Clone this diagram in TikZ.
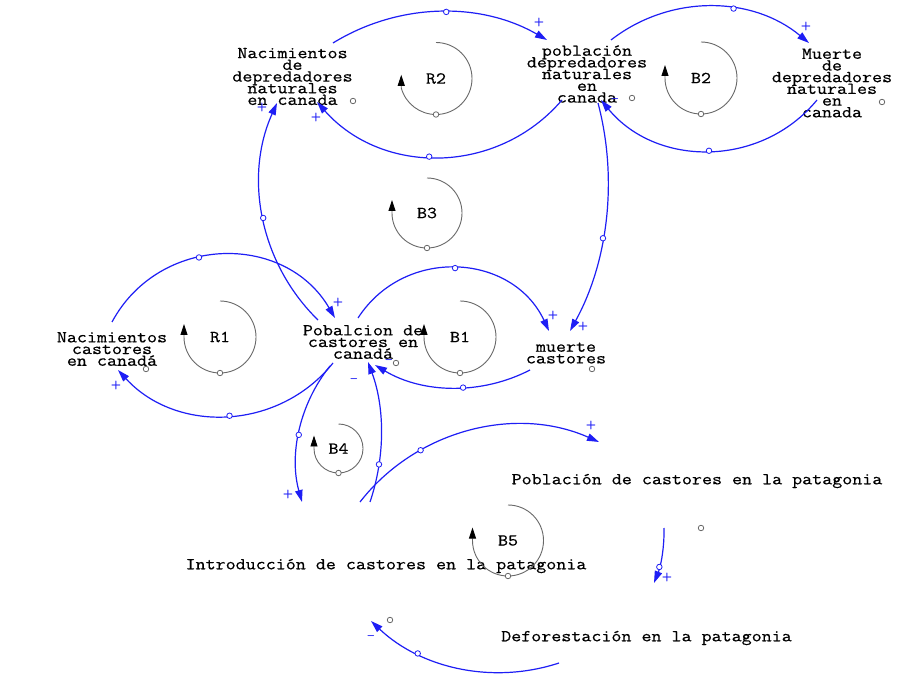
\documentclass[tikz,border=0pt]{standalone}
\usepackage{fontspec}
\newfontfamily\vensimfont[FakeStretch=1.165, FakeBold=0.5]{Latin Modern Mono}
\usepackage{tikz}
\usetikzlibrary{arrows.meta,calc}
\definecolor{linkblue}{RGB}{30,30,245}
\definecolor{loopgray}{RGB}{105,105,105}
\tikzset {
    varnode/.style={inner sep=0pt, align=center,
        font={\vensimfont\fontsize{16.7}{11.7}\selectfont\lineskiplimit=-20pt}},
    link/.style={draw=linkblue, line width=1.2pt,
        -{Triangle[length=12pt,width=7.5pt]}},
    handle/.style={circle, draw=linkblue, fill=white, line width=0.8pt,
        minimum size=5.5pt, inner sep=0pt},
    polarity/.style={text=linkblue, inner sep=0pt,
        font=\sffamily\bfseries\fontsize{12}{12}\selectfont},
    dotmark/.style={circle, draw=loopgray, fill=white, line width=0.8pt,
        minimum size=5.5pt, inner sep=0pt},
    loopname/.style={inner sep=0pt,
        font=\vensimfont\fontsize{16.7}{16.7}\selectfont},
    loopcurve/.style={draw=loopgray, line width=0.9pt,
        -{Triangle[length=11pt,width=7pt,black]}},
}

\begin{document}
\begin{tikzpicture}[x=1pt, y=1pt]

    \fill[white] (0,0) rectangle (906,-676);
    \useasboundingbox (0,0) rectangle (906,-676);

    % variables
    \node[varnode] (nacDepredadores) at (292.5,-76.5)
        {Nacimientos\\de\\depredadores\\naturales\\en canada};
    \node[varnode] (pobDepredadores) at (587,-74)
        {población\\depredadores\\naturales\\en\\canada};
    \node[varnode] (muerteDepredadores) at (832,-83)
        {Muerte\\de\\depredadores\\naturales\\en\\canada};
    \node[varnode] (nacCastores) at (112,-349)
        {Nacimientos\\castores\\en canadá};
    \node[varnode] (pobCastores) at (363,-342)
        {Pobalcion de\\castores en\\canadá};
    \node[varnode] (muerteCastores) at (566,-353) {muerte\\castores};
    \node[varnode] (pobPatagonia) at (697,-481)
        {Población de castores en la patagonia};
    \node[varnode] (introduccion) at (386,-566)
        {Introducción de castores en la patagonia};
    \node[varnode] (deforestacion) at (646.5,-638)
        {Deforestación en la patagonia};

    \node[dotmark] (nacDepredadoresDot) at (353,-101) {};
    \node[dotmark] (pobDepredadoresDot) at (632,-98) {};
    \node[dotmark] (muerteDepredadoresDot) at (882,-102) {};
    \node[dotmark] (nacCastoresDot) at (146,-369) {};
    \node[dotmark] (pobCastoresDot) at (396,-363) {};
    \node[dotmark] (muerteCastoresDot) at (592,-369) {};
    \node[dotmark] (pobPatagoniaDot) at (701,-528) {};
    \node[dotmark] (introduccionDot) at (390,-620) {};

    % loop markers
    \node[loopname] (loopR2) at (436,-78.5) {R2};
    \node[loopname] (loopB2) at (701,-78) {B2};
    \node[loopname] (loopB3) at (427,-213) {B3};
    \node[loopname] (loopR1) at (220,-337) {R1};
    \node[loopname] (loopB1) at (460,-337) {B1};
    \node[loopname] (loopB4) at (338.5,-448.5) {B4};
    \node[loopname] (loopB5) at (508,-540.5) {B5};

    \draw[loopcurve] ([yshift=36pt]loopR2.center)
        arc[start angle=90, end angle=-165, radius=36] -- ++(0,13);
    \draw[loopcurve] ([yshift=36pt]loopB2.center)
        arc[start angle=90, end angle=-180, radius=36] -- ++(0,13);
    \draw[loopcurve] ([yshift=35pt]loopB3.center)
        arc[start angle=90, end angle=-180, radius=35] -- ++(0,13);
    \draw[loopcurve] ([yshift=36pt]loopR1.center)
        arc[start angle=90, end angle=-180, radius=36] -- ++(0,13);
    \draw[loopcurve] ([yshift=36pt]loopB1.center)
        arc[start angle=90, end angle=-180, radius=36] -- ++(0,13);
    \draw[loopcurve] ([yshift=24.5pt]loopB4.center)
        arc[start angle=90, end angle=-180, radius=24.5] -- ++(0,13);
    \draw[loopcurve] ([yshift=35.5pt]loopB5.center)
        arc[start angle=90, end angle=-180, radius=35.5] -- ++(0,13);

    \node[dotmark] (loopR2Dot) at ([yshift=-36pt]loopR2.center) {};
    \node[dotmark] (loopB2Dot) at ([yshift=-36pt]loopB2.center) {};
    \node[dotmark] (loopB3Dot) at ([yshift=-35pt]loopB3.center) {};
    \node[dotmark] (loopR1Dot) at ([yshift=-36pt]loopR1.center) {};
    \node[dotmark] (loopB1Dot) at ([yshift=-36pt]loopB1.center) {};
    \node[dotmark] (loopB4Dot) at ([yshift=-24.5pt]loopB4.center) {};
    \node[dotmark] (loopB5Dot) at ([yshift=-35.5pt]loopB5.center) {};

    % causal links
    \draw[link] ($(nacDepredadores)+(40.5,33.5)$)
        to[out=31.6, in=150, looseness=0.92] node[handle, pos=0.53] (h1) {}
        ($(pobDepredadores)+(-40,34)$);
    \draw[link] ($(pobDepredadores)+(-25,-26)$)
        to[out=-130.5, in=-48.5, looseness=1.03] node[handle, pos=0.54] (h2) {}
        ($(nacDepredadores)+(24.5,-25.5)$);
    \draw[link] ($(pobDepredadores)+(24,34)$)
        to[out=37.9, in=140.3, looseness=0.96] node[handle, pos=0.61] (h3) {}
        ($(muerteDepredadores)+(-23,40)$);
    \draw[link] ($(muerteDepredadores)+(-15,-17)$)
        to[out=-129.4, in=-50.6, looseness=1.04] node[handle, pos=0.5] (h4) {}
        ($(pobDepredadores)+(14,-26)$);
    \draw[link] ($(pobCastores)+(-45,22)$)
        to[out=135.7, in=-114.3, looseness=0.94] node[handle, pos=0.5] (h5) {}
        ($(nacDepredadores)+(-15.5,-26.5)$);
    \draw[link] ($(pobDepredadores)+(11,-29)$)
        to[out=-75.2, in=61.2, looseness=0.88] node[handle, pos=0.58] (h6) {}
        ($(muerteCastores)+(4,22)$);
    \draw[link] ($(nacCastores)+(0,27)$)
        to[out=61.7, in=120.3, looseness=1.14] node[handle, pos=0.41] (h7) {}
        ($(pobCastores)+(-28,24)$);
    \draw[link] ($(pobCastores)+(-30,-21)$)
        to[out=-128.7, in=-47.5, looseness=1.03] node[handle, pos=0.49] (h8) {}
        ($(nacCastores)+(6,-21)$);
    \draw[link] ($(pobCastores)+(-5,24)$)
        to[out=57.1, in=115.1, looseness=1.15] node[handle, pos=0.49] (h9) {}
        ($(muerteCastores)+(-17,22)$);
    \draw[link] ($(muerteCastores)+(-36,-17)$)
        to[out=-152.7, in=-30.9, looseness=0.91] node[handle, pos=0.43] (h10) {}
        ($(pobCastores)+(12,-23)$);
    \draw[link] ($(pobCastores)+(-33,-24)$)
        to[out=-128.8, in=105.6, looseness=0.9] node[handle, pos=0.53] (h11) {}
        ($(introduccion)+(-84,64)$);
    \draw[link] ($(introduccion)+(-16,64)$)
        to[out=71.3, in=-69.7, looseness=0.88] node[handle, pos=0.27] (h12) {}
        ($(pobCastores)+(5,-20)$);
    \draw[link] ($(introduccion)+(-26,64)$)
        to[out=52.1, in=156.1, looseness=0.95] node[handle, pos=0.3] (h13) {}
        ($(pobPatagonia)+(-98,39)$);
    \draw[link] ($(pobPatagonia)+(-33,-47)$)
        to[out=-88.7, in=68.1, looseness=0.86] node[handle, pos=0.7] (h14) {}
        ($(deforestacion)+(7.5,55)$);
    \draw[link] ($(deforestacion)+(-87.5,-25)$)
        to[out=-161.8, in=-43.4, looseness=0.92] node[handle, pos=0.72] (h15) {}
        ($(introduccion)+(-15,-55)$);

    % polarities
    \node[polarity] (pol1) at (539,-23) {+};
    \node[polarity] (pol2) at (316,-118) {+};
    \node[polarity] (pol3) at (806,-27) {+};
    \node[polarity] (pol4) at (615,-101) {--};
    \node[polarity] (pol5) at (262,-108) {+};
    \node[polarity] (pol6) at (583,-327) {+};
    \node[polarity] (pol7) at (338,-303) {+};
    \node[polarity] (pol8) at (116,-386) {+};
    \node[polarity] (pol9) at (553,-316) {+};
    \node[polarity] (pol10) at (389,-362) {--};
    \node[polarity] (pol11) at (288,-494) {+};
    \node[polarity] (pol12) at (354,-381) {--};
    \node[polarity] (pol13) at (591,-426) {+};
    \node[polarity] (pol14) at (667,-577) {+};
    \node[polarity] (pol15) at (371,-638) {--};

\end{tikzpicture}
\end{document}
